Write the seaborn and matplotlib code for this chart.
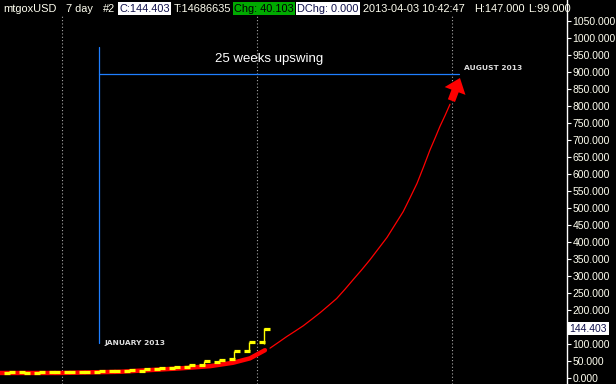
import numpy as np
import pandas as pd
import matplotlib
matplotlib.use("Agg")
import matplotlib.pyplot as plt
import seaborn as sns

# weekly bars mtgoxUSD (week 0 = first week of Dec 2012)
weeks = list(range(18))
opens = [14.0, 16.5, 13.5, 16.0, 16.0, 16.0, 16.5, 18.7, 19.5, 20.5, 25.0, 27.6, 33.0, 38.0, 47.0, 54.0, 78.0, 104.0]
closes = [16.5, 13.5, 16.0, 16.0, 16.0, 16.0, 18.7, 18.7, 21.7, 24.6, 27.6, 31.0, 36.5, 48.0, 53.0, 78.0, 104.0, 144.4]
highs = [16.5, 16.5, 16.0, 16.0, 16.0, 16.0, 18.7, 18.7, 21.7, 24.6, 27.6, 31.0, 36.5, 48.0, 53.0, 78.0, 104.0, 147.0]
lows = [14.0, 13.5, 13.5, 16.0, 16.0, 16.0, 16.5, 18.7, 19.5, 20.5, 25.0, 27.6, 33.0, 38.0, 47.0, 54.0, 78.0, 99.0]

# thick red trend under the bars
trend_x = [-0.63, 3.37, 7.37, 9.37, 11.37, 13.37, 14.9, 16.03, 17.03]
trend_y = [14, 14, 17.5, 22.5, 27.5, 34, 44, 57, 81]

# thin red projection
proj_x = [17.37, 17.93, 18.48, 19.04, 19.59, 20.15, 20.70, 21.26, 21.81, 22.36, 22.90,
          23.47, 24.03, 24.60, 25.17, 25.71, 26.25, 26.71, 27.17, 27.60, 28.03, 28.37,
          28.70, 29.04, 29.37]
proj_y = [87, 104, 121, 137, 153, 172, 191, 212, 233, 260, 288, 317, 347, 380, 413,
          451, 489, 530, 572, 620, 670, 705, 740, 772, 805]

yticks = [0, 50, 100, 200, 250, 300, 350, 400, 450, 500, 550, 600, 650, 700,
          750, 800, 850, 900, 950, 1000, 1050]
grid_weeks = [3.5, 16.5, 29.5]
last_close = "144.403"

header = [("mtgoxUSD", None, "#fffff0"), ("7 day", None, "#fffff0"), ("#2", None, "#fffff0"),
          ("C:144.403", "white", "#10104a"), ("T:14686635", None, "#fffff0"),
          ("Chg: 40.103", "#00aa00", "#000000"), ("DChg: 0.000", "white", "#10104a"),
          ("2013-04-03 10:42:47", None, "#fffff0"), ("H:147.000", None, "#fffff0"),
          ("L:99.000", None, "#fffff0")]
header_px = [3, 66, 103, 119, 174, 234, 297, 363, 474, 528]

sns.set_style("dark")
plt.rcParams["font.family"] = ["Liberation Sans", "DejaVu Sans"]

W, H = 616, 384
fig = plt.figure(figsize=(W / 100, H / 100), dpi=100, facecolor="black")
ax = fig.add_axes([0, 0, 566.7 / W, 1], facecolor="black")

ax.set_xlim(-0.633, 37.15)
ax.set_ylim(-18.5, 1111.9)

for g in grid_weeks:
    ax.axvline(g, ymax=(H - 14) / H, color="#a8a8a8", lw=0.8, ls=(0, (1, 2)), zorder=1)

sns.lineplot(x=trend_x, y=trend_y, ax=ax, color="#ff0000", lw=3.2, zorder=2)
sns.lineplot(x=proj_x, y=proj_y, ax=ax, color="#ff0000", lw=0.9, zorder=2)

w = np.array(weeks, dtype=float)
ax.vlines(w, lows, highs, color="#ffff00", lw=1.0, zorder=3)
ax.hlines(opens, w - 0.37, w + 0.03, color="#ffff00", lw=2.3, zorder=3)
ax.hlines(closes, w - 0.03, w + 0.37, color="#ffff00", lw=2.3, zorder=3)

# annotations
ax.plot([6.0, 6.0], [102, 973], color="#1f7fff", lw=0.9, zorder=2)
ax.plot([6.0, 30.0], [893, 893], color="#1f7fff", lw=0.9, zorder=2)
ax.text(17.3, 937, "25 weeks upswing", color="white", fontsize=9.5,
        ha="center", va="center")
ax.text(6.35, 102, "JANUARY 2013", color="#dddddd", fontsize=5.4,
        fontweight="bold", family="DejaVu Sans", ha="left", va="center")
ax.text(30.3, 913, "AUGUST 2013", color="#dddddd", fontsize=5.4,
        fontweight="bold", family="DejaVu Sans", ha="left", va="center")
ax.annotate("", xy=(30.1, 890), xytext=(29.4, 808),
            arrowprops=dict(arrowstyle="simple,head_width=1.6,head_length=1.0,tail_width=0.55",
                            color="#ff0000", lw=0))

# right axis
ax.yaxis.tick_right()
ax.set_yticks(yticks)
ax.set_yticklabels([f"{v:.3f}" for v in yticks])
ax.tick_params(axis="y", colors="white", labelcolor="#fffff0", length=3, width=0.8,
               labelsize=7.5, pad=1.2)
ax.tick_params(axis="x", bottom=False, labelbottom=False)
for side in ["top", "left", "bottom"]:
    ax.spines[side].set_visible(False)
ax.spines["right"].set_visible(True)
ax.spines["right"].set_color("white")
ax.spines["right"].set_linewidth(1.0)
ax.grid(False)
ax.set_xlabel("")
ax.set_ylabel("")

ax.text(1.005, 144.4, last_close, transform=ax.get_yaxis_transform(), color="#10104a",
        fontsize=7.5, ha="left", va="center",
        bbox=dict(boxstyle="square,pad=0.15", fc="white", ec="none"))

for (txt, bg, fg), px in zip(header, header_px):
    kw = {}
    if bg is not None:
        kw["bbox"] = dict(boxstyle="square,pad=0.1", fc=bg, ec="none")
    fig.text(px / W, 1 - 8.5 / H, txt, color=fg, fontsize=7.9, ha="left",
             va="center", **kw)

fig.savefig("out.png", dpi=100, facecolor="black")
